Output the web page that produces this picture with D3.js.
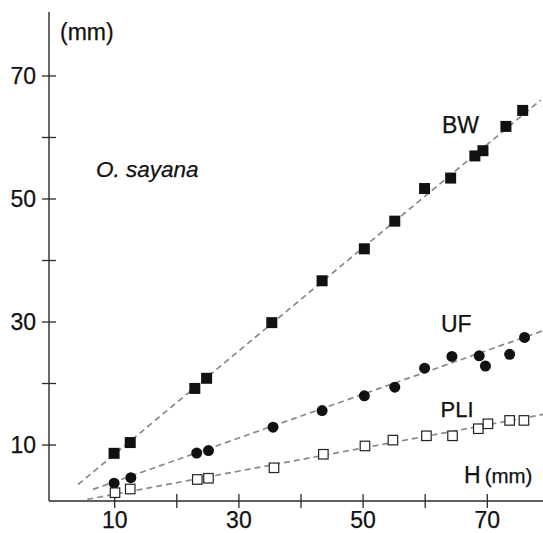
<!DOCTYPE html>
<html>
<head>
<meta charset="utf-8">
<script src="https://cdn.jsdelivr.net/npm/d3@7"></script>
<style>
  html, body { margin: 0; padding: 0; background: #fff; }
  svg { display: block; }
  text { font-family: "Liberation Sans", Arial, sans-serif; fill: #111; stroke: #111; stroke-width: 0.25; }
</style>
</head>
<body>
<svg id="chart" width="543" height="533"></svg>
<script>
// ---- data ----
const H   = [9.9, 12.5, 22.9, 24.8, 35.3, 43.4, 50.2, 55.1, 59.9, 64.1, 68.0, 69.3, 73.0, 75.7];
const BW  = [8.65, 10.4, 19.2, 20.85, 29.9, 36.7, 41.9, 46.4, 51.7, 53.4, 57.0, 57.85, 61.8, 64.4];
const H_UF = [9.9, 12.6, 23.2, 25.1, 35.5, 43.4, 50.2, 55.1, 59.9, 64.3, 68.7, 69.7, 73.6, 76.0];
const UF  = [3.8, 4.7, 8.7, 9.1, 12.9, 15.6, 18.0, 19.4, 22.5, 24.4, 24.5, 22.85, 24.75, 27.5];
const H_PLI = [10.05, 12.5, 23.3, 25.1, 35.65, 43.6, 50.3, 54.8, 60.2, 64.4, 68.55, 70.1, 73.6, 75.9];
const PLI = [2.25, 2.85, 4.4, 4.6, 6.3, 8.5, 9.85, 10.8, 11.5, 11.5, 12.65, 13.45, 14.0, 14.0];

// regression lines: [name, slope, intercept, start H, end H]
const fits = [
  ["BW", 0.839, 0.14, 4.1, 78.6],
  ["UF", 0.356, 0.47, 6.5, 79],
  ["PLI", 0.188, 0.12, 5.6, 79]
];

const xMajor = [10, 30, 50, 70];
const xMinor = [20, 40, 60];
const yMajor = [10, 30, 50, 70];
const yMinor = [20, 40, 60];

// ---- layout ----
const svg = d3.select("#chart");
const x = d3.scaleLinear().domain([-0.58, 78.97]).range([49, 543]);
const y = d3.scaleLinear().domain([0.9, 80.4]).range([501, 12]);

const axisColor = "#2a2a2a";

// axis lines
svg.append("line").attr("x1", x(-0.58)).attr("x2", x(-0.58))
  .attr("y1", y(80.4)).attr("y2", y(0.9))
  .attr("stroke", axisColor).attr("stroke-width", 1.4);
svg.append("line").attr("x1", x(-0.58)).attr("x2", x(78.97))
  .attr("y1", y(0.9)).attr("y2", y(0.9))
  .attr("stroke", axisColor).attr("stroke-width", 1.4);

// ticks (crossing axis)
const tl = 7;
svg.selectAll(".xt").data(xMajor.concat(xMinor)).join("line")
  .attr("x1", d => x(d)).attr("x2", d => x(d))
  .attr("y1", y(0.9) - tl).attr("y2", y(0.9) + tl)
  .attr("stroke", axisColor).attr("stroke-width", 1.3);
svg.selectAll(".yt").data(yMajor.concat(yMinor)).join("line")
  .attr("y1", d => y(d)).attr("y2", d => y(d))
  .attr("x1", x(-0.58) - tl).attr("x2", x(-0.58) + tl)
  .attr("stroke", axisColor).attr("stroke-width", 1.3);

// tick labels
svg.selectAll(".xl").data(xMajor).join("text")
  .attr("x", d => x(d)).attr("y", 528)
  .attr("text-anchor", "middle").attr("font-size", 23)
  .text(d => d);
svg.selectAll(".yl").data(yMajor).join("text")
  .attr("x", 36).attr("y", d => y(d)).attr("dy", "0.36em")
  .attr("text-anchor", "end").attr("font-size", 23)
  .text(d => d);

// regression lines
const line = d3.line().x(d => x(d[0])).y(d => y(d[1]));
svg.selectAll(".fit").data(fits).join("path")
  .attr("d", f => line([[f[3], f[1]*f[3] + f[2]], [f[4], f[1]*f[4] + f[2]]]))
  .attr("fill", "none").attr("stroke", "#8a8a8a")
  .attr("stroke-width", 1.7).attr("stroke-dasharray", "6,4");

// BW: filled squares
const sBW = 11;
svg.selectAll(".bw").data(H.map((h, i) => [h, BW[i]])).join("rect")
  .attr("x", d => x(d[0]) - sBW/2).attr("y", d => y(d[1]) - sBW/2)
  .attr("width", sBW).attr("height", sBW).attr("fill", "#111");

// UF: filled circles
svg.selectAll(".uf").data(H_UF.map((h, i) => [h, UF[i]])).join("circle")
  .attr("cx", d => x(d[0])).attr("cy", d => y(d[1])).attr("r", 5.5)
  .attr("fill", "#111");

// PLI: open squares
const sP = 9.5;
svg.selectAll(".pli").data(H_PLI.map((h, i) => [h, PLI[i]])).join("rect")
  .attr("x", d => x(d[0]) - sP/2).attr("y", d => y(d[1]) - sP/2)
  .attr("width", sP).attr("height", sP)
  .attr("fill", "#fff").attr("stroke", "#222").attr("stroke-width", 1.2);

// labels
svg.append("text").attr("x", 60).attr("y", 40).attr("font-size", 23).text("(mm)");
svg.append("text").attr("x", 96).attr("y", 177).attr("font-size", 22.5)
  .attr("font-style", "italic").text("O. sayana");
svg.append("text").attr("x", 442).attr("y", 132.7).attr("font-size", 23).text("BW");
svg.append("text").attr("x", 441).attr("y", 331.7).attr("font-size", 23).text("UF");
svg.append("text").attr("x", 440.5).attr("y", 416.7).attr("font-size", 22).text("PLI");
const hl = svg.append("text").attr("x", 464).attr("y", 483.3);
hl.append("tspan").attr("font-size", 23).text("H");
hl.append("tspan").attr("font-size", 20.5).attr("dx", 4).text("(mm)");
</script>
</body>
</html>
